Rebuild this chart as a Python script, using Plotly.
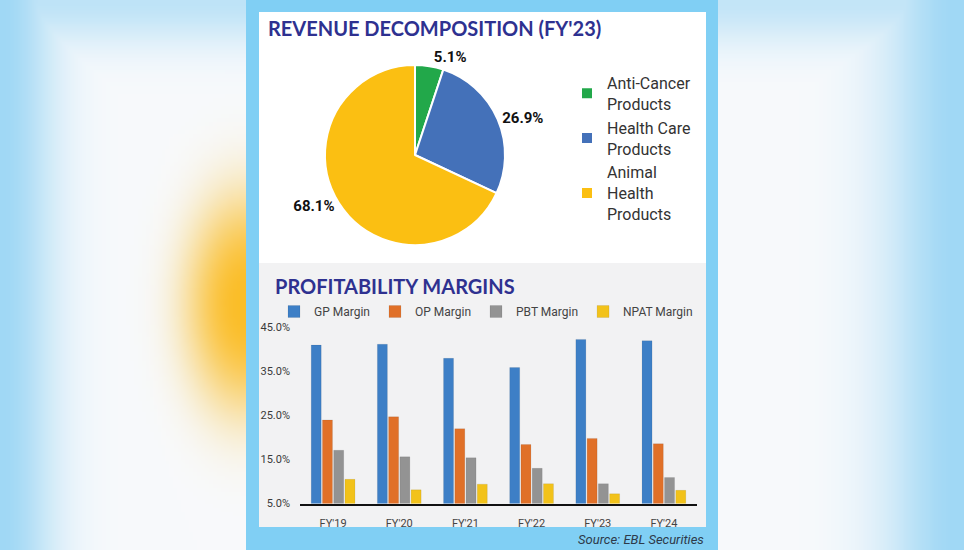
import base64, struct, zlib
import numpy as np
import plotly.graph_objects as go

# ---------------- data ----------------
pie_labels = ["Anti-Cancer<br>Products", "Health Care<br>Products", "Animal<br>Health<br>Products"]
pie_values = [5.1, 26.9, 68.1]
pie_colors = ["#22a84a", "#4471b9", "#fbbf12"]

years = ["FY'19", "FY'20", "FY'21", "FY'22", "FY'23", "FY'24"]
gp_margin = [41.0, 41.2, 38.0, 35.9, 42.3, 42.0]
op_margin = [24.0, 24.7, 22.0, 18.4, 19.8, 18.6]
pbt_margin = [17.1, 15.6, 15.4, 13.0, 9.5, 10.9]
npat_margin = [10.5, 8.1, 9.4, 9.5, 7.2, 8.0]
series_names = ["GP Margin", "OP Margin", "PBT Margin", "NPAT Margin"]
series_colors = ["#3d7fc6", "#e07028", "#939393", "#f2c21a"]
y_ticks = [5, 15, 25, 35, 45]
y_tick_text = ["5.0%", "15.0%", "25.0%", "35.0%", "45.0%"]

W, H = 964, 550


def px_x(v):
    return v / W


def px_y(v):
    return 1 - v / H


# ---------------- blurred background picture ----------------
def make_png(rgb):
    h, w, _ = rgb.shape
    raw = b"".join(b"\x00" + rgb[i].tobytes() for i in range(h))

    def chunk(t, d):
        return struct.pack(">I", len(d)) + t + d + struct.pack(">I", zlib.crc32(t + d) & 0xffffffff)

    return (b"\x89PNG\r\n\x1a\n" + chunk(b"IHDR", struct.pack(">IIBBBBB", w, h, 8, 2, 0, 0, 0))
            + chunk(b"IDAT", zlib.compress(raw, 9)) + chunk(b"IEND", b""))


s = 4
gw, gh = W // s + 1, H // s + 1
xx, yy = np.meshgrid((np.arange(gw) + 0.5) * s, (np.arange(gh) + 0.5) * s)
white = np.array([248, 250, 252], float)
blue = np.array([160, 216, 245], float)
orange = np.array([251, 190, 40], float)
wb_left = np.maximum(np.exp(-(xx / 55.0) ** 2), 0.65 * np.exp(-(yy / 45.0) ** 2))
wb_right = np.maximum(np.exp(-((W - xx) / 75.0) ** 2), 0.6 * np.exp(-(yy / 45.0) ** 2))
wb = np.where(xx < W / 2, wb_left, wb_right)
img = white[None, None, :] * (1 - wb[..., None]) + blue[None, None, :] * wb[..., None]
d2 = ((xx - 248) / 62.0) ** 2 + ((yy - 305) / 110.0) ** 2
wo = np.exp(-d2 ** 1.3)
wo = np.where(xx < W / 2, wo, 0)
img = img * (1 - wo[..., None]) + orange[None, None, :] * wo[..., None]
bg_uri = "data:image/png;base64," + base64.b64encode(make_png(np.clip(img, 0, 255).astype(np.uint8))).decode()

# ---------------- figure ----------------
fig = go.Figure()

fig.add_trace(go.Pie(
    labels=pie_labels, values=pie_values, sort=False, direction="clockwise", rotation=0,
    marker=dict(colors=pie_colors, line=dict(color="white", width=2)),
    texttemplate="%{value:.1f}%", textposition="outside",
    textfont=dict(family="Roboto", size=15, color="#111111", weight="bold"),
    domain=dict(x=[px_x(325), px_x(505)], y=[px_y(246), px_y(64)]),
    legend="legend", hoverinfo="label+value",
))

for name, vals, col in zip(series_names, [gp_margin, op_margin, pbt_margin, npat_margin], series_colors):
    fig.add_trace(go.Bar(
        x=years, y=vals, name=name, marker=dict(color=col, line=dict(color="rgba(0,0,0,0.15)", width=0.5)),
        legend="legend2", xaxis="x", yaxis="y",
    ))

shapes = [
    dict(type="rect", xref="paper", yref="paper", x0=px_x(246), x1=px_x(718), y0=0, y1=1,
         fillcolor="#80cff4", line=dict(width=0), layer="below"),
    dict(type="rect", xref="paper", yref="paper", x0=px_x(259), x1=px_x(706), y0=px_y(263), y1=px_y(12),
         fillcolor="#ffffff", line=dict(width=0), layer="below"),
    dict(type="rect", xref="paper", yref="paper", x0=px_x(259), x1=px_x(706), y0=px_y(527), y1=px_y(263),
         fillcolor="#f2f2f3", line=dict(width=0), layer="below"),
]

annotations = [
    dict(text="REVENUE DECOMPOSITION (FY'23)", xref="paper", yref="paper", x=px_x(266), y=px_y(28),
         xanchor="left", yanchor="middle", showarrow=False,
         font=dict(family="Lato", size=20, color="#2e3190", weight="bold")),
    dict(text="PROFITABILITY MARGINS", xref="paper", yref="paper", x=px_x(273), y=px_y(286),
         xanchor="left", yanchor="middle", showarrow=False,
         font=dict(family="Lato", size=20, color="#2e3190", weight="bold")),
    dict(text="<i>Source: EBL Securities</i>", xref="paper", yref="paper", x=px_x(706), y=px_y(539),
         xanchor="right", yanchor="middle", showarrow=False,
         font=dict(family="Roboto", size=13, color="#2d3a4a")),
]

fig.update_layout(
    width=W, height=H, margin=dict(l=0, r=0, t=0, b=0, pad=0, autoexpand=False),
    paper_bgcolor="#eef6fb", plot_bgcolor="rgba(0,0,0,0)",
    images=[dict(source=bg_uri, xref="paper", yref="paper", x=0, y=1, sizex=1, sizey=1,
                 sizing="stretch", xanchor="left", yanchor="top", layer="below")],
    shapes=shapes, annotations=annotations,
    barmode="group", bargap=0.32, bargroupgap=0.11,
    xaxis=dict(domain=[px_x(300), px_x(697)], showline=True, linecolor="#111111", linewidth=2,
               showgrid=False, ticks="", ticklabelstandoff=8, automargin=False,
               tickfont=dict(family="Roboto", size=11, color="#444444"), anchor="y"),
    yaxis=dict(domain=[px_y(503.5), px_y(327.5)], range=[5, 45], tickvals=y_ticks, ticktext=y_tick_text,
               showgrid=False, zeroline=False, showline=False, ticks="", ticklabelstandoff=9,
               automargin=False, tickfont=dict(family="Roboto", size=11, color="#3a3a3a"), anchor="x"),
    legend=dict(x=px_x(567), y=px_y(66), xanchor="left", yanchor="top", bgcolor="rgba(0,0,0,0)",
                font=dict(family="Roboto", size=16, color="#333333"), itemwidth=30,
                tracegroupgap=14),
    legend2=dict(orientation="h", x=px_x(486), y=px_y(297), xanchor="center", yanchor="top",
                 bgcolor="rgba(0,0,0,0)", font=dict(family="Roboto", size=12, color="#444444"),
                 itemwidth=30),
    showlegend=True,
)

fig.write_html("out.html", config={"displayModeBar": False},
               post_script="document.body.style.margin='0';document.body.style.overflow='hidden';")
